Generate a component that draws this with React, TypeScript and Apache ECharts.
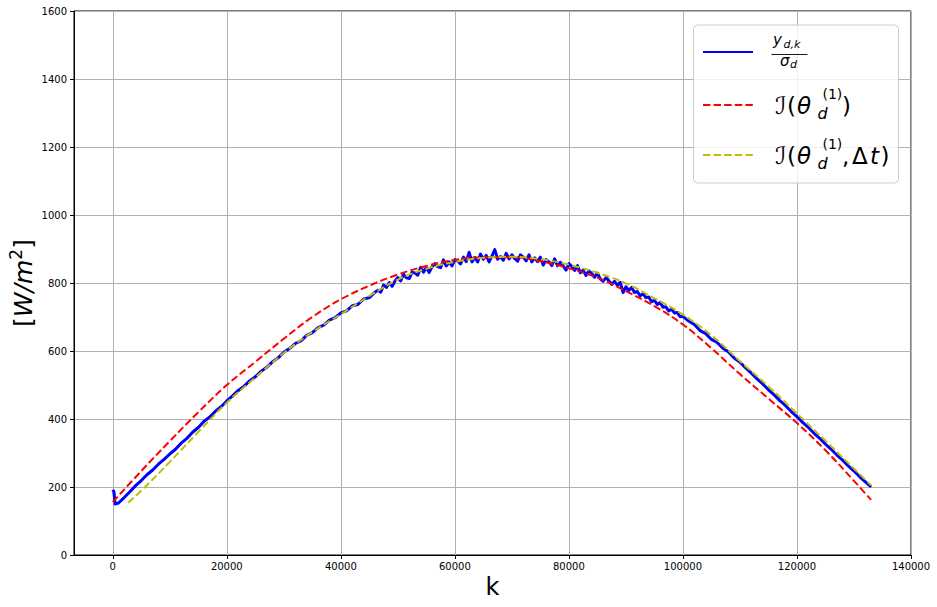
import React, { useEffect, useRef } from "react";
import * as echarts from "echarts";

// x positions of the series are in thousands of samples k
const xTicks = [0, 20000, 40000, 60000, 80000, 100000, 120000, 140000];

const blueData: [number, number][] = [
  [0, 192], [0.2, 186], [0.4, 150], [1, 153], [2, 169], [3, 186], [4, 204], [5, 219], [6, 236], [7, 250],
  [8, 267], [9, 281], [10, 297], [11, 311], [12, 329], [13, 343], [14, 361], [15, 375], [16, 393], [17, 406],
  [18, 423], [19, 436], [20, 453], [21, 468], [22, 484], [23, 496], [24, 512], [25, 524], [26, 540], [27, 552],
  [28, 568], [29, 580], [30, 596], [31, 607], [32, 622], [33, 630], [34, 646], [35, 654], [36, 669], [37, 676],
  [38, 691], [39, 698], [40, 712], [41, 718], [42, 733], [43, 737], [44, 753], [45, 757], [46, 773],
  [46.5, 779], [47, 773], [47.5, 794], [48, 787], [48.5, 801], [49, 790], [49.5, 806], [50, 816], [50.5, 806],
  [51, 826], [51.5, 815], [52, 813], [52.5, 832], [53, 829], [53.5, 823], [54, 846], [54.5, 832], [55, 846],
  [55.5, 831], [56, 848], [56.5, 857], [57, 848], [57.5, 845], [58, 868], [58.5, 850], [59, 862], [59.5, 850],
  [60, 869], [60.5, 865], [61, 856], [61.5, 876], [62, 863], [62.5, 890], [63, 862], [63.5, 875], [64, 862],
  [64.5, 885], [65, 870], [65.5, 881], [66, 862], [66.5, 879], [67, 898], [67.5, 870], [68, 878], [68.5, 867],
  [69, 887], [69.5, 871], [70, 883], [70.5, 872], [71, 864], [71.5, 883], [72, 876], [72.5, 865], [73, 883],
  [73.5, 862], [74, 874], [74.5, 863], [75, 876], [75.5, 853], [76, 869], [76.5, 862], [77, 851], [77.5, 871],
  [78, 851], [78.5, 861], [79, 850], [79.5, 838], [80, 857], [80.5, 849], [81, 837], [81.5, 851], [82, 830],
  [82.5, 838], [83, 822], [83.5, 836], [84, 828], [84.5, 817], [85, 829], [85.5, 812], [86, 805], [86.5, 816],
  [87, 807], [87.5, 796], [88, 805], [88.5, 794], [89, 802], [89.5, 772], [90, 789], [90.5, 778], [91, 787],
  [91.5, 772], [92, 775], [92.5, 762], [93, 769], [93.5, 757], [94, 759], [94.5, 745], [95, 749], [95.5, 737],
  [96, 743], [96.5, 729], [97, 730], [97.5, 718], [98, 723], [98.5, 712], [99, 713], [99.5, 701], [100, 702],
  [101, 688], [102, 678], [103, 660], [104, 651], [105, 634], [106, 625], [107, 608], [108, 597], [109, 579],
  [110, 567], [111, 550], [112, 535], [113, 518], [114, 503], [115, 486], [116, 471], [117, 454], [118, 439],
  [119, 422], [120, 407], [121, 390], [122, 375], [123, 358], [124, 343], [125, 326], [126, 311], [127, 294],
  [128, 279], [129, 262], [130, 247], [131, 230], [132, 215], [133, 200],
];

const redData: [number, number][] = [
  [0, 156], [5, 247], [10, 335], [15, 420], [20, 500], [25, 568], [30, 636], [35, 700], [40, 752], [45, 792],
  [50, 825], [55, 850], [60, 868], [65, 876], [70, 876], [75, 864], [80, 843], [85, 816], [90, 776], [95, 732],
  [100, 678], [105, 608], [110, 532], [115, 460], [120, 388], [125, 308], [130, 218], [133, 162],
];

const yellowData: [number, number][] = [
  [2.7, 154], [5, 189], [10, 274], [15, 362], [20, 448], [25, 522], [30, 594], [35, 656], [40, 708], [45, 762],
  [50, 810], [55, 842], [60, 862], [65, 874], [70, 877], [75, 870], [80, 854], [85, 830], [90, 799], [95, 755],
  [100, 707], [105, 646], [110, 570], [115, 496], [120, 416], [125, 336], [130, 254], [133, 205],
];

const FONT = "DejaVu Sans";

function txt(text: string, x: number, baseline: number, fs: number, italic = false, extra: any = {}) {
  return {
    type: "text",
    x,
    y: baseline - 0.35 * fs,
    z: 20,
    style: {
      text,
      fontSize: fs,
      fontFamily: FONT,
      fontStyle: italic ? "italic" : "normal",
      fill: "#000",
      align: "left",
      verticalAlign: "middle",
      ...extra,
    },
  };
}

export default function App() {
  const ref = useRef<HTMLDivElement>(null);
  useEffect(() => {
    const chart = echarts.init(ref.current!, null, { renderer: "svg" });
    const toK = (d: [number, number][]) => d.map(([k, v]) => [k * 1000, v]);
    const dash = [7.4, 3.2];
    const B2 = 114;
    const B3 = 164;
    const option: any = {
      animation: false,
      backgroundColor: "#fff",
      grid: {
        left: 74,
        top: 11,
        width: 837,
        height: 544,
        show: true,
        borderColor: "#000",
        borderWidth: 1,
        backgroundColor: "transparent",
        outerBoundsMode: "none",
      },
      xAxis: {
        type: "value",
        min: -6800,
        max: 140000,
        axisLine: { show: true, onZero: false, lineStyle: { color: "#000", width: 1 } },
        axisTick: { show: true, length: 4, lineStyle: { color: "#000" }, customValues: xTicks },
        axisLabel: {
          show: true,
          customValues: xTicks,
          formatter: (v: number) => String(v),
          fontSize: 10,
          color: "#000",
          fontFamily: FONT,
          margin: 6,
        },
        splitLine: { show: true, lineStyle: { color: "#b0b0b0", width: 1 } },
      },
      yAxis: {
        type: "value",
        min: 0,
        max: 1600,
        interval: 200,
        axisLine: { show: true, onZero: false, lineStyle: { color: "#000", width: 1 } },
        axisTick: { show: true, length: 4, lineStyle: { color: "#000" } },
        axisLabel: {
          formatter: (v: number) => String(v),
          fontSize: 10,
          color: "#000",
          fontFamily: FONT,
          margin: 7,
        },
        splitLine: { show: true, lineStyle: { color: "#b0b0b0", width: 1 } },
      },
      series: [
        {
          type: "line",
          data: toK(blueData),
          showSymbol: false,
          z: 2,
          lineStyle: { color: "#0000ff", width: 3, join: "round" },
          itemStyle: { color: "#0000ff" },
        },
        {
          type: "line",
          data: toK(redData),
          showSymbol: false,
          smooth: 0.4,
          z: 3,
          lineStyle: { color: "#ff0000", width: 2, type: dash },
          itemStyle: { color: "#ff0000" },
        },
        {
          type: "line",
          data: toK(yellowData),
          showSymbol: false,
          smooth: 0.4,
          z: 4,
          lineStyle: { color: "#bfbf00", width: 2, type: dash },
          itemStyle: { color: "#bfbf00" },
        },
      ],
      graphic: [
        {
          type: "rect",
          z: 10,
          shape: { x: 693.5, y: 25, width: 205, height: 158, r: 4 },
          style: { fill: "rgba(255,255,255,0.8)", stroke: "#cccccc", lineWidth: 1 },
        },
        { type: "line", z: 20, shape: { x1: 703, y1: 52, x2: 753, y2: 52 }, style: { stroke: "#0000ff", lineWidth: 2 } },
        { type: "line", z: 20, shape: { x1: 703, y1: 105, x2: 753, y2: 105 }, style: { stroke: "#ff0000", lineWidth: 2, lineDash: dash } },
        { type: "line", z: 20, shape: { x1: 703, y1: 155, x2: 753, y2: 155 }, style: { stroke: "#bfbf00", lineWidth: 2, lineDash: dash } },
        // entry 1: y_{d,k} / sigma_d
        txt("y", 773, 45.5, 15, true),
        txt("d,k", 783.5, 48, 11, true),
        { type: "line", z: 20, shape: { x1: 771.5, y1: 54.5, x2: 807.5, y2: 54.5 }, style: { stroke: "#000", lineWidth: 0.9 } },
        txt("σ", 780, 66.5, 15, true),
        txt("d", 790, 68.5, 11, true),
        // entry 2
        txt("ℐ", 775, B2, 24),
        txt("(", 787, B2, 23),
        txt("θ", 797, B2, 23, true),
        txt("d", 817.5, B2 + 5, 16, true),
        txt("(1)", 822.5, B2 - 15, 14),
        txt(")", 842, B2, 23),
        // entry 3
        txt("ℐ", 775, B3, 24),
        txt("(", 787, B3, 23),
        txt("θ", 797, B3, 23, true),
        txt("d", 817.5, B3 + 5, 16, true),
        txt("(1)", 822.5, B3 - 15, 14),
        txt(",", 842, B3, 23),
        txt("Δ", 852, B3, 23),
        txt("t", 870, B3, 23, true),
        txt(")", 880.5, B3, 23),
        // axis titles
        {
          type: "text",
          z: 20,
          x: 21.5,
          y: 283,
          rotation: Math.PI / 2,
          style: {
            text: "{a|[}{i|W/m}{s|2}{a|]}",
            align: "center",
            verticalAlign: "middle",
            fill: "#000",
            rich: {
              a: { fontSize: 25, fontFamily: FONT, lineHeight: 28, verticalAlign: "bottom" },
              i: { fontSize: 25, fontFamily: FONT, fontStyle: "italic", lineHeight: 28, verticalAlign: "bottom" },
              s: { fontSize: 17, fontFamily: FONT, lineHeight: 16, verticalAlign: "top" },
            },
          },
        },
        {
          type: "text",
          z: 20,
          x: 492.5,
          y: 595 - 0.35 * 24,
          style: { text: "k", fontSize: 24, fontFamily: FONT, fill: "#000", align: "center", verticalAlign: "middle" },
        },
      ],
    };
    chart.setOption(option);
    return () => chart.dispose();
  }, []);
  return <div ref={ref} style={{ position: "fixed", left: 0, top: 0, width: 937, height: 607 }} />;
}
